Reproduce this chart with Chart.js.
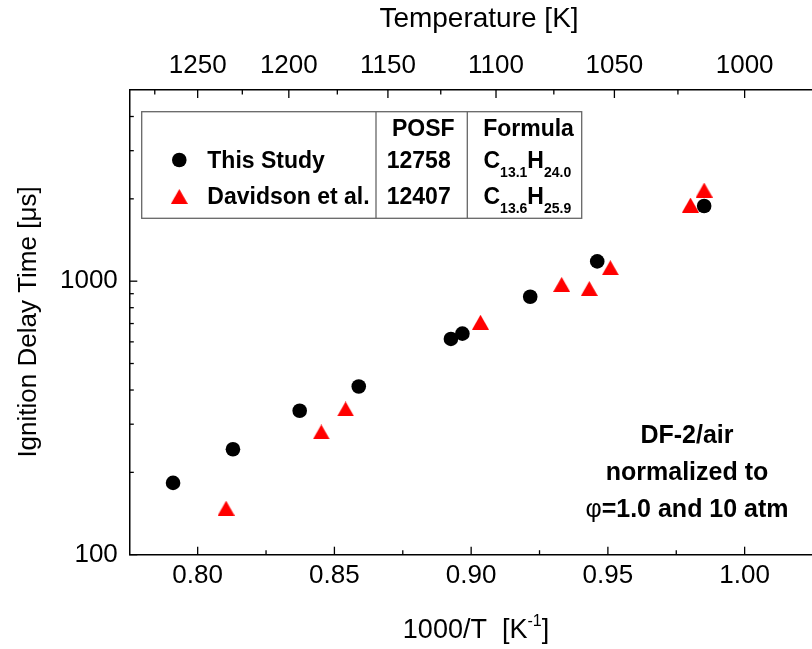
<!DOCTYPE html>
<html><head><meta charset="utf-8">
<script src="https://cdn.jsdelivr.net/npm/chart.js@4/dist/chart.umd.min.js"></script>
<style>html,body{margin:0;padding:0;overflow:hidden;background:#fff}</style>
</head><body>
<canvas id="c" width="823" height="649"></canvas>
<script>
// ---- data ----
const thisStudyX = [0.791, 0.8129, 0.8373, 0.8589, 0.8926, 0.8968, 0.9216, 0.9461, 0.9852];
const thisStudyY = [183, 243, 336, 412, 615, 643, 877, 1181, 1883];
const davidsonX = [0.8104, 0.8452, 0.8541, 0.9034, 0.9331, 0.9432, 0.9509, 0.9802, 0.9852];
const davidsonY = [148, 281, 341, 708, 973, 940, 1120, 1898, 2154];
const xMajorTicks = [0.80, 0.85, 0.90, 0.95, 1.00];
const xMinorTicks = [0.825, 0.875, 0.925, 0.975];
const tempMajorTicks = [1250, 1200, 1150, 1100, 1050, 1000];
const tempMinorTicks = [1275, 1225, 1175, 1125, 1075, 1025];
const yMajorTicks = [100, 1000];
const yMinorTicks = [200, 300, 400, 500, 600, 700, 800, 900, 2000, 3000, 4000];
const xRange = [0.775, 1.025];
const yRange = [100, 5000];
const seriesNames = ['This Study', 'Davidson et al.'];
const posfIds = ['12758', '12407'];
const formulaC = ['13.1', '13.6'];
const formulaH = ['24.0', '25.9'];
const noteLines = ['DF-2/air', 'normalized to', '=1.0 and 10 atm'];
const phiSymbol = '\u03c6';

const FONT = "'Liberation Sans', Arial, sans-serif";

function makeTri(w, h, color) {
  const c = document.createElement('canvas');
  c.width = w; c.height = h;
  const g = c.getContext('2d');
  g.fillStyle = color;
  g.beginPath(); g.moveTo(w / 2, 0); g.lineTo(w, h); g.lineTo(0, h); g.closePath(); g.fill();
  return c;
}
const triImg = makeTri(17, 15, '#ff0000');

const deco = {
  id: 'deco',
  afterDraw(chart) {
    const ctx = chart.ctx, xs = chart.scales.x, ys = chart.scales.y, a = chart.chartArea;
    ctx.save();
    ctx.strokeStyle = '#000'; ctx.lineWidth = 1.3;
    const tick = (x1, y1, x2, y2) => { ctx.beginPath(); ctx.moveTo(x1, y1); ctx.lineTo(x2, y2); ctx.stroke(); };
    xMajorTicks.forEach(v => { const p = xs.getPixelForValue(v); tick(p, a.bottom, p, a.bottom - 8); });
    xMinorTicks.forEach(v => { const p = xs.getPixelForValue(v); tick(p, a.bottom, p, a.bottom - 4.5); });
    tempMajorTicks.forEach(T => { const p = xs.getPixelForValue(1000 / T); tick(p, a.top, p, a.top + 8); });
    tempMinorTicks.forEach(T => { const p = xs.getPixelForValue(1000 / T); tick(p, a.top, p, a.top + 4.5); });
    yMajorTicks.forEach(v => { const p = ys.getPixelForValue(v); tick(a.left, p, a.left + 8, p); });
    yMinorTicks.forEach(v => { const p = ys.getPixelForValue(v); tick(a.left, p, a.left + 4.5, p); });

    ctx.fillStyle = '#000';
    // axis titles
    ctx.textAlign = 'center'; ctx.textBaseline = 'alphabetic';
    ctx.font = '28px ' + FONT;
    ctx.fillText('Temperature [K]', 479, 27);
    // bottom title with superscript
    const p1 = '1000/T  [K', p3 = ']';
    ctx.font = '27px ' + FONT; const w1 = ctx.measureText(p1).width, w3 = ctx.measureText(p3).width;
    ctx.font = '16px ' + FONT; const w2 = ctx.measureText('-1').width;
    let bx = 476 - (w1 + w2 + w3) / 2;
    ctx.textAlign = 'left';
    ctx.font = '27px ' + FONT; ctx.fillText(p1, bx, 638);
    ctx.font = '16px ' + FONT; ctx.fillText('-1', bx + w1, 626);
    ctx.font = '27px ' + FONT; ctx.fillText(p3, bx + w1 + w2, 638);
    // y title
    ctx.save();
    ctx.translate(29, 322); ctx.rotate(-Math.PI / 2);
    ctx.textAlign = 'center'; ctx.textBaseline = 'middle';
    ctx.font = '26px ' + FONT;
    ctx.fillText('Ignition Delay Time [\u03bcs]', 0, 0);
    ctx.restore();

    // legend table
    ctx.strokeStyle = '#666'; ctx.lineWidth = 1.3;
    ctx.strokeRect(141.7, 111.7, 440, 106.6);
    tick(376, 111.7, 376, 218.3);
    tick(467.3, 111.7, 467.3, 218.3);
    ctx.font = 'bold 23px ' + FONT;
    ctx.textAlign = 'center';
    ctx.fillText('POSF', 423.3, 136);
    ctx.fillText('Formula', 528.5, 136);
    const rowBase = [168.3, 204];
    const rowMid = [160, 196.5];
    ctx.beginPath(); ctx.arc(179.3, rowMid[0], 7.3, 0, Math.PI * 2); ctx.fillStyle = '#000'; ctx.fill();
    ctx.drawImage(triImg, 179.3 - triImg.width / 2, rowMid[1] - triImg.height / 2);
    ctx.fillStyle = '#000';
    for (let i = 0; i < 2; i++) {
      ctx.font = 'bold 23px ' + FONT;
      ctx.textAlign = 'left';
      ctx.fillText(seriesNames[i], 207.3, rowBase[i]);
      ctx.textAlign = 'center';
      ctx.fillText(posfIds[i], 418.7, rowBase[i]);
      ctx.textAlign = 'left';
      let fx = 483.5;
      ctx.font = 'bold 23px ' + FONT; ctx.fillText('C', fx, rowBase[i]); fx += ctx.measureText('C').width;
      ctx.font = 'bold 14px ' + FONT; ctx.fillText(formulaC[i], fx, rowBase[i] + 9); fx += ctx.measureText(formulaC[i]).width;
      ctx.font = 'bold 23px ' + FONT; ctx.fillText('H', fx, rowBase[i]); fx += ctx.measureText('H').width;
      ctx.font = 'bold 14px ' + FONT; ctx.fillText(formulaH[i], fx, rowBase[i] + 9);
    }
    // annotation
    ctx.font = 'bold 25px ' + FONT; ctx.textAlign = 'center';
    const nb = [443, 480, 517];
    ctx.fillText(noteLines[0], 687, nb[0]);
    ctx.fillText(noteLines[1], 687, nb[1]);
    const wRest = ctx.measureText(noteLines[2]).width;
    ctx.font = '25px ' + FONT; const wPhi = ctx.measureText(phiSymbol).width;
    const sx = 687 - (wPhi + wRest) / 2;
    ctx.textAlign = 'left';
    ctx.fillText(phiSymbol, sx, nb[2]);
    ctx.font = 'bold 25px ' + FONT;
    ctx.fillText(noteLines[2], sx + wPhi, nb[2]);
    ctx.restore();
  }
};

const tickFont = { family: FONT, size: 26 };
new Chart(document.getElementById('c'), {
  type: 'scatter',
  data: {
    datasets: [
      { label: seriesNames[0], data: thisStudyX.map((x, i) => ({ x, y: thisStudyY[i] })),
        pointStyle: 'circle', pointRadius: 7.3, pointBorderWidth: 0, backgroundColor: '#000', borderColor: '#000', xAxisID: 'x', yAxisID: 'y' },
      { label: seriesNames[1], data: davidsonX.map((x, i) => ({ x, y: davidsonY[i] })),
        pointStyle: triImg, pointRadius: 9, backgroundColor: '#f00', borderColor: '#f00', xAxisID: 'x', yAxisID: 'y' }
    ]
  },
  options: {
    responsive: false, animation: false, events: [],
    layout: { padding: 0 },
    plugins: { legend: { display: false }, tooltip: { enabled: false } },
    scales: {
      x: {
        type: 'linear', position: 'bottom', min: xRange[0], max: xRange[1],
        grid: { display: false, drawTicks: false },
        border: { display: true, color: '#000', width: 1.5 },
        afterBuildTicks: s => { s.ticks = xMajorTicks.map(v => ({ value: v })); },
        afterFit: s => { s.height = 94.3; },
        ticks: { font: tickFont, color: '#000', padding: 5.5, autoSkip: false, maxRotation: 0,
          callback: v => Number(v).toFixed(2) }
      },
      xTop: {
        type: 'linear', position: 'top', min: xRange[0], max: xRange[1],
        grid: { display: false, drawTicks: false },
        border: { display: true, color: '#000', width: 1.5 },
        afterBuildTicks: s => { s.ticks = tempMajorTicks.map(T => ({ value: 1000 / T })); },
        afterFit: s => { s.height = 90; },
        ticks: { font: tickFont, color: '#000', padding: 8.6, autoSkip: false, maxRotation: 0,
          callback: v => String(Math.round(1000 / v)) }
      },
      y: {
        type: 'logarithmic', position: 'left', min: yRange[0], max: yRange[1],
        grid: { display: false, drawTicks: false },
        border: { display: true, color: '#000', width: 1.5 },
        afterBuildTicks: s => { s.ticks = yMajorTicks.map(v => ({ value: v })); },
        afterFit: s => { s.width = 129.3; },
        ticks: { font: tickFont, color: '#000', padding: 11.5, autoSkip: false,
          callback: v => String(v) }
      }
    }
  },
  plugins: [deco]
});
</script>
</body></html>
